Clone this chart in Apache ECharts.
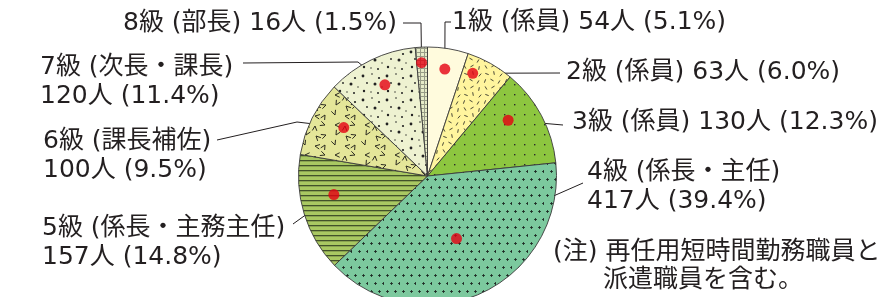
<html>
<head>
  <meta charset="utf-8">
  <title>級別職員構成</title>
  <script type="text/javascript" src="https://cdn.jsdelivr.net/npm/echarts@6/dist/echarts.min.js"></script>
  <style>html,body{margin:0;padding:0;background:#fff;}</style>
</head>
<body>
<div id="chartmain" style="width:889px; height:297px;"></div>
<script type="text/javascript">
  // data
  var grades = ['1級', '2級', '3級', '4級', '5級', '6級', '7級', '8級'];
  var roles = ['係員', '係員', '係員', '係長・主任', '係長・主務主任', '課長補佐', '次長・課長', '部長'];
  var counts = [54, 63, 130, 417, 157, 100, 120, 16];
  var shares = [5.1, 6.0, 12.3, 39.4, 14.8, 9.5, 11.4, 1.5];
  var noteLines = ['(注) 再任用短時間勤務職員と', '派遣職員を含む。'];

  var CX = 427.5, CY = 176, R = 129;
  var FONT = '"DejaVu Sans", "Noto Sans CJK JP", sans-serif';
  var INK = '#231F20';

  // red dot inside each slice: [part of the slice arc, part of the radius]
  var dotAt = [[0.5, 0.84], [0.25, 0.87], [0.35, 0.76], [0.5, 0.535], [0.61, 0.74], [0.6, 0.75], [0.52, 0.78], [0.45, 0.88]];
  // label box (left, first line centre), line bends, line end
  var labelAt = [
    {x: 452, y: 22, two: false, bend: [[445, 22]], end: [451, 22]},
    {x: 566, y: 72, two: false, bend: [], end: [560, 73]},
    {x: 572, y: 122, two: false, bend: [], end: [563, 125]},
    {x: 587, y: 172, two: true, bend: [], end: [583, 183]},
    {x: 42, y: 228, two: true, bend: [], end: [293, 224]},
    {x: 43, y: 141, two: true, bend: [[297, 122]], end: [217, 140]},
    {x: 40, y: 67, two: true, bend: [[358, 62]], end: [243, 63]},
    {x: 123, y: 23, two: false, bend: [[421, 23]], end: [403, 23]}
  ];

  // fill textures (small repeating tiles)
  function tile(w, h, bg, draw) {
    var c = document.createElement('canvas');
    c.width = w; c.height = h;
    var g = c.getContext('2d');
    g.fillStyle = bg; g.fillRect(0, 0, w, h);
    if (draw) draw(g);
    return {image: c, repeat: 'repeat'};
  }
  function dashes(g) {
    var d = [[3, 4, 60], [10, 3, -30], [17, 5, 100], [4, 11, 20], [11, 10, 80], [18, 12, -50], [2, 18, -70], [9, 17, 30], [16, 19, 120]];
    g.strokeStyle = '#34342a'; g.lineWidth = 0.9;
    d.forEach(function (s) {
      var a = s[2] * Math.PI / 180, dx = Math.cos(a) * 1.8, dy = Math.sin(a) * 1.8;
      g.beginPath(); g.moveTo(s[0] - dx, s[1] - dy); g.lineTo(s[0] + dx, s[1] + dy); g.stroke();
    });
  }
  function pluses(g) {
    g.fillStyle = 'rgba(25,35,30,0.8)';
    [[2, 2], [10, 2], [6, 10], [14, 10]].forEach(function (p) {
      g.fillRect(p[0], p[1] + 1, 3, 1); g.fillRect(p[0] + 1, p[1], 1, 3);
    });
  }
  function vees(g) {
    var v = [[5, 5, 0], [15, 6, 95], [25, 5, 200], [6, 15, 300], [16, 16, 45], [26, 15, 160], [5, 25, 250], [15, 26, 10], [25, 25, 120]];
    g.strokeStyle = '#2b2b20'; g.lineWidth = 1;
    v.forEach(function (s) {
      var a = s[2] * Math.PI / 180, k = 0.45, L = 5.2;
      g.beginPath();
      g.moveTo(s[0] + Math.cos(a - k) * L, s[1] + Math.sin(a - k) * L);
      g.lineTo(s[0], s[1]);
      g.lineTo(s[0] + Math.cos(a + k) * L, s[1] + Math.sin(a + k) * L);
      g.stroke();
    });
  }
  function specks(g) {
    var d = [[3, 4, 1.4], [12, 2, 0.8], [19, 6, 1.1], [7, 11, 0.9], [15, 12, 1.5], [22, 15, 0.7], [4, 19, 1.2], [11, 20, 0.7], [18, 21, 1.0]];
    g.fillStyle = '#222';
    d.forEach(function (s) { g.beginPath(); g.arc(s[0], s[1], s[2], 0, Math.PI * 2); g.fill(); });
  }

  var fills = [
    '#FFFBDD',
    tile(21, 21, '#FFF59E', dashes),
    tile(10, 10, '#8DC63F', function (g) { g.fillStyle = '#2b2b2b'; g.fillRect(4, 4, 1.4, 1.4); }),
    tile(16, 16, '#7CC99E', pluses),
    tile(10, 5, '#A9C862', function (g) { g.fillStyle = '#42512a'; g.fillRect(0, 0, 10, 1.3); }),
    tile(30, 30, '#E4E699', vees),
    tile(24, 24, '#EEF2D1', specks),
    tile(4, 4, '#E6EBC8', function (g) { g.fillStyle = '#979B86'; g.fillRect(0, 0, 4, 1); g.fillRect(0, 0, 1, 4); })
  ];

  var total = 0, starts = [];
  for (var i = 0; i < counts.length; i++) { starts.push(total); total += counts[i]; }

  function dotValue(i) { return [dotAt[i][1], starts[i] + dotAt[i][0] * counts[i]]; }
  function dotPx(i) {
    var v = dotValue(i);
    var a = v[1] / total * 2 * Math.PI;
    return [CX + v[0] * R * Math.sin(a), CY - v[0] * R * Math.cos(a)];
  }

  var pieData = [], dots = [];
  for (var i = 0; i < grades.length; i++) {
    pieData.push({name: grades[i], value: counts[i], itemStyle: {color: fills[i]}});
    dots.push(dotValue(i));
  }

  function labelText(i) {
    var head = grades[i] + ' (' + roles[i] + ')';
    var tail = counts[i] + '人 (' + shares[i].toFixed(1) + '%)';
    return labelAt[i].two ? head + '\n' + tail : head + ' ' + tail;
  }

  var myChart = echarts.init(document.getElementById('chartmain'));
  var option = {
    animation: false,
    title: {
      text: noteLines[0] + '\n\u3000\u3000' + noteLines[1],
      left: 553, top: 238, padding: 0,
      textStyle: {fontFamily: FONT, fontSize: 25, fontWeight: 'normal', color: INK, lineHeight: 28}
    },
    polar: {center: [CX, CY], radius: R},
    angleAxis: {type: 'value', min: 0, max: total, startAngle: 90, clockwise: true, show: false},
    radiusAxis: {type: 'value', min: 0, max: 1, show: false},
    series: [
      {
        type: 'pie',
        center: [CX, CY],
        radius: R,
        startAngle: 90,
        clockwise: true,
        avoidLabelOverlap: false,
        minShowLabelAngle: 0,
        emphasis: {disabled: true},
        itemStyle: {borderColor: '#3a3a3a', borderWidth: 0.9},
        label: {
          show: true,
          position: 'outer',
          formatter: function (p) { return labelText(p.dataIndex); },
          fontFamily: FONT, fontSize: 25, lineHeight: 29, color: INK
        },
        labelLine: {show: true, length: 10, length2: 10, lineStyle: {color: INK, width: 1}},
        labelLayout: function (p) {
          var L = labelAt[p.dataIndex];
          var pts = [dotPx(p.dataIndex)].concat(L.bend).concat([L.end]);
          return {x: L.x, y: L.y - 14.5, align: 'left', verticalAlign: 'top', labelLinePoints: pts};
        },
        data: pieData
      },
      {
        type: 'scatter',
        coordinateSystem: 'polar',
        symbolSize: 11,
        itemStyle: {color: '#E50012'},
        silent: true,
        data: dots
      }
    ]
  };
  myChart.setOption(option);
</script>
</body>
</html>
